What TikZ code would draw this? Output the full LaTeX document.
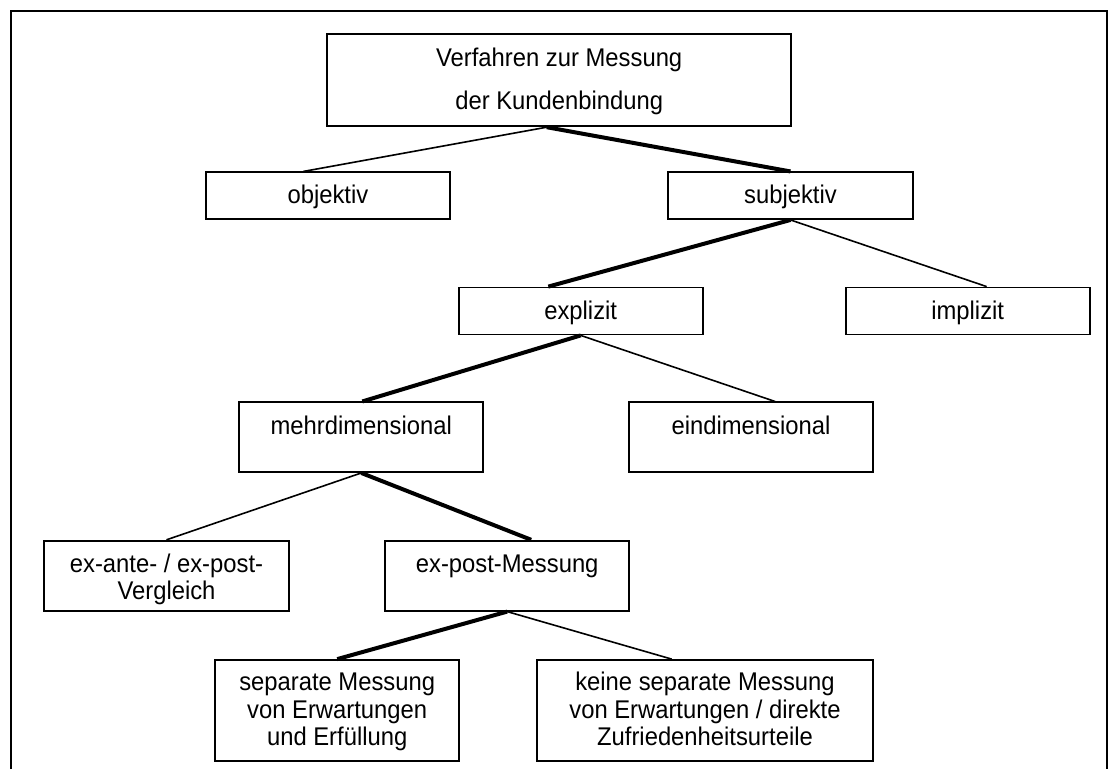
\documentclass[tikz,border=0pt]{standalone}
\usepackage{fontspec}
\setmainfont{Liberation Sans}
\newfontfamily\labelfont[FakeStretch=0.93]{Liberation Sans}
\begin{document}
\begin{tikzpicture}[x=1pt,y=-1pt,
  box/.style={draw=black, line width=1.8pt, rectangle, inner sep=0pt},
  txt/.style={anchor=base, inner sep=0pt, font=\labelfont\fontsize{25.6}{29}\selectfont},
  weaklink/.style={draw=black, line width=1.6pt},
  stronglink/.style={draw=black, line width=4pt}]
\useasboundingbox (0,0) rectangle (1111,769);
\fill[white] (0,0) rectangle (1111,769);

% outer frame, open at the bottom edge
\draw[line width=2pt] (11,769) -- (11,11) -- (1107,11) -- (1107,769);

% boxes
\node[box, minimum width=463.7pt, minimum height=92.6pt] (root) at (559.2,80) {};
\node[box, minimum width=244.3pt, minimum height=46.7pt] (obj) at (327.9,195.7) {};
\node[box, minimum width=244.3pt, minimum height=46.7pt] (sub) at (790.5,195.7) {};
\node[box, minimum width=244pt, minimum height=47pt] (expl) at (580.7,311) {};
\node[box, minimum width=244pt, minimum height=47pt] (impl) at (967.7,311) {};
\node[box, minimum width=244pt, minimum height=69.7pt] (mehr) at (361.3,437.2) {};
\node[box, minimum width=244pt, minimum height=69.7pt] (eind) at (751,437.2) {};
\node[box, minimum width=244.3pt, minimum height=70pt] (exante) at (166.5,575.7) {};
\node[box, minimum width=244.3pt, minimum height=70pt] (expost) at (507.2,575.7) {};
\node[box, minimum width=244.3pt, minimum height=101pt] (sep) at (337.2,710.5) {};
\node[box, minimum width=336.6pt, minimum height=101pt] (keine) at (705,710.5) {};

% labels
\node[txt] (root1) at (559.2,66) {Verfahren zur Messung};
\node[txt] (root2) at (559.2,109) {der Kundenbindung};
\node[txt] (objt) at (327.9,203.5) {objektiv};
\node[txt] (subt) at (790.5,203.5) {subjektiv};
\node[txt] (explt) at (580.7,319) {explizit};
\node[txt] (implt) at (967.7,319) {implizit};
\node[txt] (mehrt) at (361.3,434) {mehrdimensional};
\node[txt] (eindt) at (751,434) {eindimensional};
\node[txt] (exante1) at (166.5,572) {ex-ante- / ex-post-};
\node[txt] (exante2) at (166.5,599) {Vergleich};
\node[txt] (expostt) at (507.2,572) {ex-post-Messung};
\node[txt] (sep1) at (337.2,690.5) {separate Messung};
\node[txt] (sep2) at (337.2,718.5) {von Erwartungen};
\node[txt] (sep3) at (337.2,745.5) {und Erfüllung};
\node[txt] (keine1) at (705,690.5) {keine separate Messung};
\node[txt] (keine2) at (705,718.5) {von Erwartungen / direkte};
\node[txt] (keine3) at (705,745.5) {Zufriedenheitsurteile};

% connectors
\draw[weaklink]   ([xshift=-12.5pt]root.south) -- ([xshift=-24.6pt]obj.north);
\draw[stronglink] ([xshift=-12.5pt]root.south) -- (sub.north);
\draw[stronglink] (sub.south) -- ([xshift=-32.4pt]expl.north);
\draw[weaklink]   (sub.south) -- ([xshift=19pt]impl.north);
\draw[stronglink] (expl.south) -- ([xshift=1pt]mehr.north);
\draw[weaklink]   (expl.south) -- ([xshift=24pt]eind.north);
\draw[weaklink]   (mehr.south) -- (exante.north);
\draw[stronglink] (mehr.south) -- ([xshift=24pt]expost.north);
\draw[stronglink] (expost.south) -- (sep.north);
\draw[weaklink]   (expost.south) -- ([xshift=-33.3pt]keine.north);
\end{tikzpicture}
\end{document}
